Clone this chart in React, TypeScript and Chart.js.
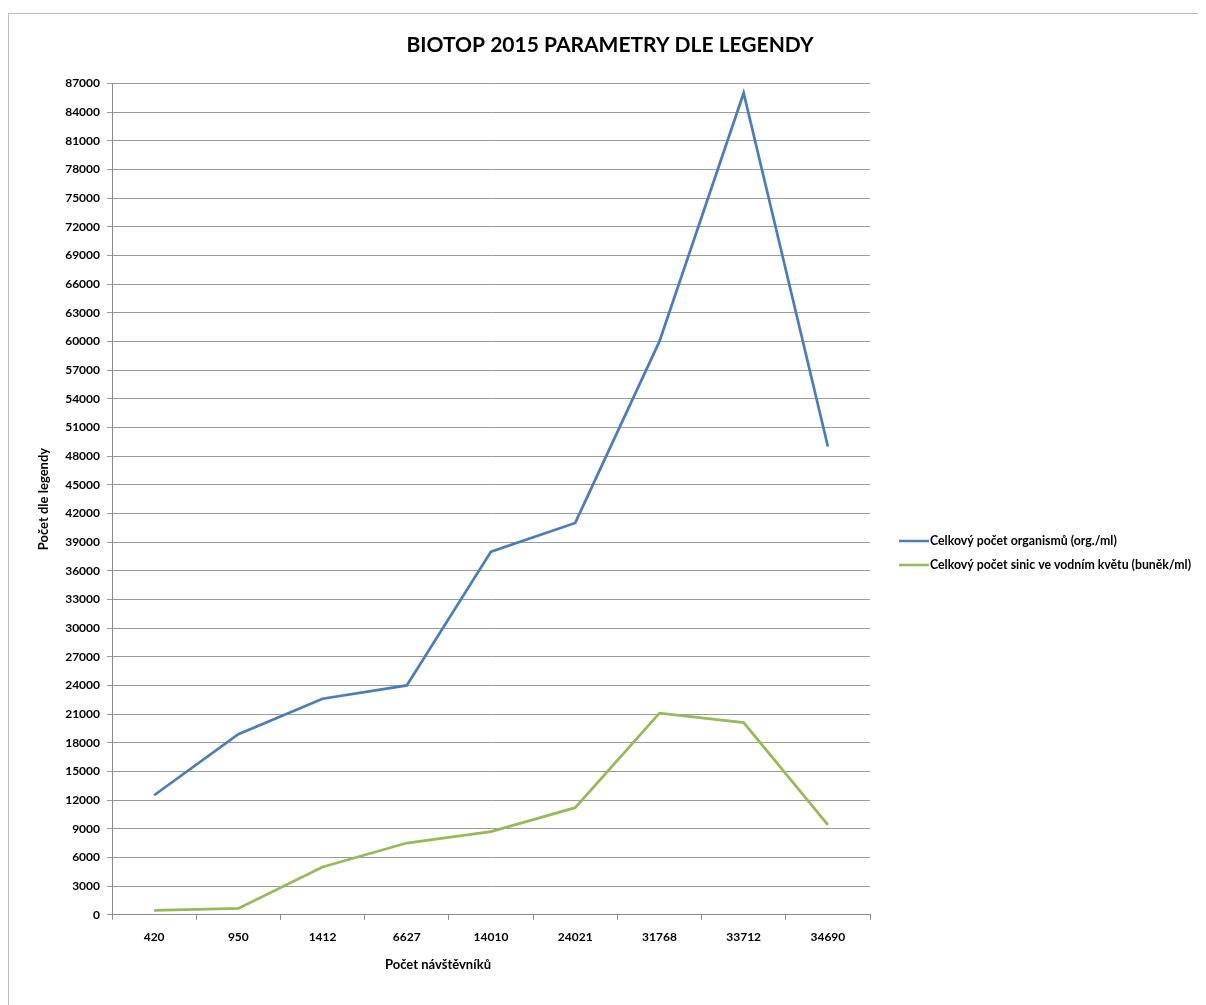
import React, { useEffect, useRef } from 'react';
import { Chart, registerables } from 'chart.js';

Chart.register(...registerables);

const categories = ['420', '950', '1412', '6627', '14010', '24021', '31768', '33712', '34690'];
const organismsValues = [12500, 18900, 22600, 24000, 38000, 41000, 60000, 86000, 49000];
const cyanoValues = [450, 650, 5000, 7500, 8700, 11200, 21100, 20100, 9400];
const seriesLabels = [
  'Celkový počet organismů (org./ml)',
  'Celkový počet sinic ve vodním květu (buněk/ml)',
];
const seriesColors = ['#4a7ebb', '#98b954'];
const chartTitle = 'BIOTOP 2015 PARAMETRY DLE LEGENDY';
const xAxisTitle = 'Počet návštěvníků';
const yAxisTitle = 'Počet dle legendy';
const yMin = 0;
const yMax = 87000;
const yStep = 3000;

const FONT = 'Lato';
const CANVAS_W = 1197;
const CANVAS_H = 991;

const customText = {
  id: 'customText',
  afterDraw(chart: any, _args: any, opts: any) {
    const { ctx } = chart;
    ctx.save();
    ctx.fillStyle = '#000';
    ctx.textBaseline = 'middle';
    ctx.textAlign = 'center';
    ctx.font = `bold 21px ${FONT}`;
    ctx.fillText(opts.title, opts.titleX, opts.titleY);
    ctx.font = `bold 13px ${FONT}`;
    ctx.fillText(opts.xTitle, opts.xTitleX, opts.xTitleY);
    ctx.textAlign = 'left';
    ctx.font = `bold 12.3px ${FONT}`;
    chart.data.datasets.forEach((ds: any, i: number) => {
      const y = opts.legendY + i * opts.legendGap;
      ctx.strokeStyle = ds.borderColor;
      ctx.lineWidth = 2.5;
      ctx.beginPath();
      ctx.moveTo(opts.legendX, y);
      ctx.lineTo(opts.legendX + 30, y);
      ctx.stroke();
      ctx.fillText(ds.label, opts.legendX + 31, y + 0.5);
    });
    ctx.restore();
  },
};

export default function App() {
  const ref = useRef<HTMLCanvasElement | null>(null);

  useEffect(() => {
    document.documentElement.style.overflow = 'hidden';
    if (!ref.current) return;
    const chart = new Chart(ref.current, {
      type: 'line',
      data: {
        labels: categories,
        datasets: [
          {
            label: seriesLabels[0],
            data: organismsValues,
            borderColor: seriesColors[0],
            backgroundColor: seriesColors[0],
            borderWidth: 2.75,
            pointRadius: 0,
            tension: 0,
            fill: false,
          },
          {
            label: seriesLabels[1],
            data: cyanoValues,
            borderColor: seriesColors[1],
            backgroundColor: seriesColors[1],
            borderWidth: 2.75,
            pointRadius: 0,
            tension: 0,
            fill: false,
          },
        ],
      },
      options: {
        responsive: false,
        animation: false,
        layout: { padding: { left: 0, right: 336, top: 69.4, bottom: 0 } },
        plugins: {
          legend: { display: false },
          tooltip: { enabled: false },
          title: { display: false },
          customText: {
            title: chartTitle,
            titleX: 601,
            titleY: 31,
            xTitle: xAxisTitle,
            xTitleX: 429,
            xTitleY: 951,
            legendX: 890,
            legendY: 527,
            legendGap: 24,
          },
        } as any,
        scales: {
          x: {
            type: 'category',
            offset: true,
            grid: {
              offset: true,
              drawOnChartArea: false,
              drawTicks: true,
              tickLength: 5,
              color: '#8a8a8a',
            },
            border: { display: true, color: '#8a8a8a', width: 1 },
            ticks: {
              color: '#000',
              font: { family: FONT, size: 12, weight: 'bold' },
              padding: 10,
              maxRotation: 0,
              autoSkip: false,
            },
            afterFit: (scale: any) => {
              scale.height = 90.3;
            },
          },
          y: {
            min: yMin,
            max: yMax,
            grid: {
              color: '#9a9a9a',
              drawTicks: true,
              tickLength: 5,
            },
            border: { display: true, color: '#8a8a8a', width: 1 },
            ticks: {
              stepSize: yStep,
              color: '#000',
              font: { family: FONT, size: 12, weight: 'bold' },
              padding: 7,
              autoSkip: false,
              callback: (v: any) => String(v),
            },
            title: {
              display: true,
              text: yAxisTitle,
              color: '#000',
              font: { family: FONT, size: 13, weight: 'bold' },
              padding: { top: 27, bottom: 0 },
            },
            afterFit: (scale: any) => {
              scale.width = 103;
            },
          },
        },
      },
      plugins: [customText],
    });
    return () => chart.destroy();
  }, []);

  return (
    <div style={{ paddingTop: 5 }}>
      <div
        style={{
          borderTop: '1px solid #bdbdbd',
          borderLeft: '1px solid #bdbdbd',
          width: CANVAS_W,
          height: CANVAS_H,
          background: '#fff',
        }}
      >
        <canvas ref={ref} width={CANVAS_W} height={CANVAS_H} style={{ display: 'block' }} />
      </div>
    </div>
  );
}
